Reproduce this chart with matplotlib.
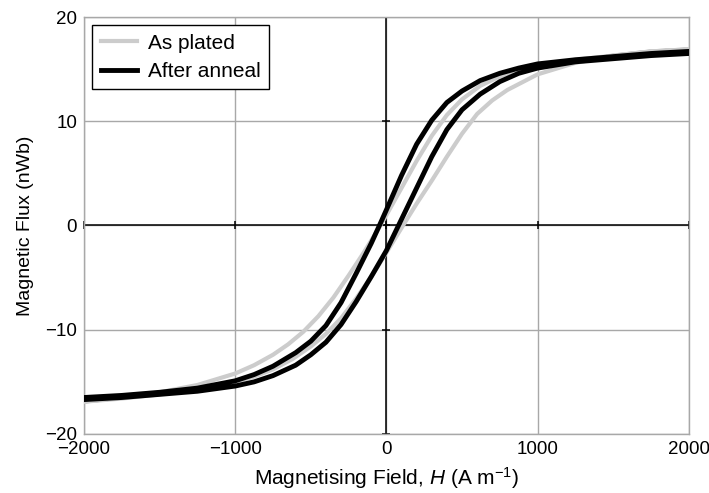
import matplotlib
matplotlib.use("Agg")
import matplotlib.pyplot as plt
import numpy as np

# Werte (H in A/m, Fluss in nWb)
# As plated: absteigender und aufsteigender Ast
plated_down_h = [2000, 1750, 1500, 1250, 1000, 875, 750, 620, 500, 400, 300, 200, 100, 0,
                 -65, -150, -250, -350, -450, -550, -650, -750, -875, -1000, -1250, -1500, -1750, -2000]
plated_down_flux = [16.9, 16.7, 16.3, 15.9, 15.3, 14.9, 14.3, 13.4, 12.1, 10.6, 8.6, 6.2, 3.6, 1.0,
                    -0.6, -2.6, -4.8, -6.9, -8.7, -10.2, -11.4, -12.4, -13.4, -14.2, -15.3, -16.0, -16.5, -16.9]
plated_up_h = [-2000, -1750, -1500, -1250, -1000, -875, -750, -620, -500, -400, -300, -200, -100, 0,
               110, 200, 300, 400, 500, 600, 700, 800, 1000, 1250, 1500, 1750, 2000]
plated_up_flux = [-16.9, -16.6, -16.2, -15.7, -15.0, -14.5, -13.8, -12.8, -11.6, -10.4, -8.9, -7.0, -4.9, -2.6,
                  0.0, 2.1, 4.3, 6.6, 8.8, 10.7, 12.0, 13.0, 14.5, 15.6, 16.3, 16.7, 16.9]

# After anneal
anneal_down_h = [2000, 1750, 1500, 1250, 1000, 875, 750, 620, 500, 400, 300, 200, 100, 0,
                 -40, -100, -200, -300, -400, -500, -600, -750, -875, -1000, -1250, -1500, -1750, -2000]
anneal_down_flux = [16.7, 16.5, 16.2, 15.9, 15.5, 15.1, 14.6, 13.9, 12.9, 11.8, 10.1, 7.8, 4.8, 1.5,
                    0.2, -1.7, -4.6, -7.4, -9.6, -11.1, -12.2, -13.5, -14.3, -14.9, -15.6, -16.0, -16.3, -16.5]
anneal_up_h = [-2000, -1750, -1500, -1250, -1000, -875, -750, -600, -500, -400, -300, -200, -100, 0,
               100, 200, 300, 400, 500, 620, 750, 875, 1000, 1250, 1500, 1750, 2000]
anneal_up_flux = [-16.7, -16.5, -16.2, -15.9, -15.4, -15.0, -14.4, -13.4, -12.4, -11.2, -9.5, -7.3, -4.9, -2.4,
                  0.6, 3.6, 6.6, 9.2, 11.1, 12.6, 13.8, 14.6, 15.1, 15.7, 16.0, 16.3, 16.5]

x_ticks = [-2000, -1000, 0, 1000, 2000]
y_ticks = [-20, -10, 0, 10, 20]

plt.rcParams['font.family'] = ['Liberation Sans', 'DejaVu Sans']
plt.rcParams['mathtext.fontset'] = 'custom'
plt.rcParams['mathtext.rm'] = 'Liberation Sans'
plt.rcParams['mathtext.it'] = 'Liberation Sans:italic'

fig = plt.figure(figsize=(7.09, 4.93), dpi=100)
ax = fig.add_axes([0.1185, 0.1197, 0.853, 0.8458])

# Gitter und Achsen durch den Ursprung
ax.set_xticks(x_ticks)
ax.set_yticks(y_ticks)
ax.grid(True, color='#a8a8a8', linewidth=1.0)
ax.set_axisbelow(True)
ax.axhline(0, color='black', linewidth=1.1, zorder=1)
ax.axvline(0, color='black', linewidth=1.1, zorder=1)
ax.plot(x_ticks, np.zeros(len(x_ticks)), linestyle='none', marker='|', color='black',
        markersize=6, markeredgewidth=1.1, zorder=1, clip_on=False)
ax.plot(np.zeros(len(y_ticks)), y_ticks, linestyle='none', marker='_', color='black',
        markersize=6, markeredgewidth=1.1, zorder=1)

# Hystereseschleifen
ax.plot(plated_down_h + plated_up_h, plated_down_flux + plated_up_flux,
        color='#cccccc', linewidth=3.0, label='As plated', zorder=3)
ax.plot(anneal_down_h + anneal_up_h, anneal_down_flux + anneal_up_flux,
        color='black', linewidth=3.5, label='After anneal', zorder=4)

ax.set_xlim(-2000, 2000)
ax.set_ylim(-20, 20)
for s in ax.spines.values():
    s.set_color('#a8a8a8')
    s.set_linewidth(1.0)
ax.tick_params(length=0, labelsize=13.5, pad=5)

ax.set_xlabel('Magnetising Field, $H$ (A m$^{-1}$)', fontsize=15, labelpad=5)
ax.set_ylabel('Magnetic Flux (nWb)', fontsize=14, labelpad=8)

leg = ax.legend(loc='upper left', fontsize=15, frameon=True, fancybox=False,
                edgecolor='black', framealpha=1, handlelength=1.75, handletextpad=0.5,
                borderaxespad=0.4, borderpad=0.4, labelspacing=0.45)
leg.get_frame().set_linewidth(1.0)

fig.savefig('out.png', dpi=100)
